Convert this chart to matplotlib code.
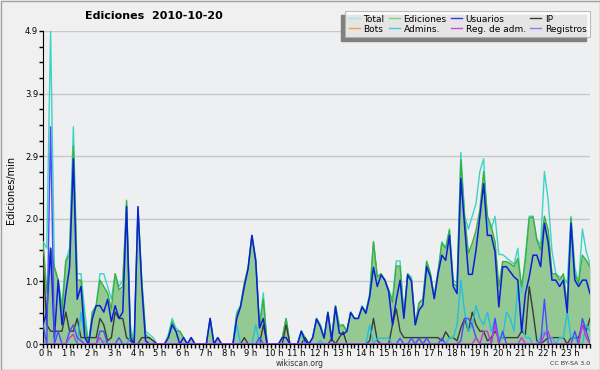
import matplotlib
matplotlib.use("Agg")
import matplotlib.pyplot as plt
import matplotlib.transforms as mtransforms
from matplotlib.lines import Line2D
from matplotlib.patches import Rectangle
from matplotlib.ticker import FixedLocator, MultipleLocator
import numpy as np

# edits per minute, one value every 10 minutes from 0 h to 24 h
total = [1.6, 1.5, 4.9, 1.2, 1.0, 0.6, 1.3, 1.5, 3.4, 1.1, 1.1, 0.5,
         0.0, 0.5, 0.6, 1.1, 1.1, 0.9, 0.7, 1.1, 0.9, 1.0, 2.2, 0.3,
         0.0, 2.15, 1.0, 0.2, 0.15, 0.1, 0.0, 0.0, 0.0, 0.15, 0.4, 0.25,
         0.2, 0.1, 0.0, 0.1, 0.0, 0.0, 0.0, 0.0, 0.4, 0.0, 0.1, 0.0,
         0.0, 0.0, 0.0, 0.5, 0.6, 0.95, 1.2, 1.7, 1.35, 0.3, 0.8, 0.0,
         0.0, 0.0, 0.0, 0.1, 0.4, 0.0, 0.0, 0.0, 0.2, 0.1, 0.0, 0.1,
         0.4, 0.3, 0.1, 0.5, 0.1, 0.6, 0.3, 0.3, 0.2, 0.5, 0.4, 0.4,
         0.6, 0.5, 0.8, 1.6, 1.05, 1.1, 1.0, 0.85, 0.7, 1.3, 1.3, 0.45,
         1.1, 1.05, 0.3, 0.65, 0.7, 1.3, 1.1, 0.75, 1.15, 1.6, 1.5, 1.8,
         1.0, 0.95, 3.0, 2.0, 1.8, 2.0, 2.2, 2.7, 2.9, 1.9, 1.8, 2.0,
         1.4, 1.4, 1.35, 1.3, 1.25, 1.5, 0.8, 1.4, 2.0, 2.0, 1.65, 1.55,
         2.7, 2.25, 1.45, 1.1, 1.05, 1.05, 0.95, 2.0, 1.2, 0.95, 1.8, 1.45,
         1.25]

ediciones = [1.6, 0.8, 1.5, 1.2, 1.0, 0.5, 1.3, 1.4, 3.1, 1.0, 1.0, 0.3,
             0.0, 0.5, 0.6, 1.0, 0.9, 0.8, 0.55, 1.1, 0.85, 0.9, 2.25, 0.2,
             0.0, 2.1, 1.0, 0.15, 0.1, 0.05, 0, 0, 0, 0.1, 0.35, 0.2,
             0.2, 0.1, 0, 0.1, 0, 0, 0, 0, 0.4, 0, 0.1, 0,
             0, 0, 0, 0.45, 0.6, 0.95, 1.2, 1.7, 1.3, 0.25, 0.7, 0,
             0, 0, 0, 0.1, 0.4, 0, 0, 0, 0.2, 0.1, 0, 0.1,
             0.4, 0.3, 0.1, 0.5, 0.1, 0.6, 0.27, 0.3, 0.2, 0.5, 0.4, 0.4,
             0.58, 0.5, 0.75, 1.6, 1.05, 1.1, 1.0, 0.85, 0.65, 1.22, 1.22, 0.45,
             1.1, 1.0, 0.3, 0.64, 0.7, 1.29, 1.1, 0.72, 1.12, 1.58, 1.5, 1.78,
             0.95, 0.9, 2.88, 1.99, 1.42, 1.58, 1.78, 2.1, 2.7, 2.0, 1.84, 1.6,
             0.9, 1.29, 1.29, 1.26, 1.21, 1.34, 0.9, 1.3, 1.97, 1.99, 1.63, 1.47,
             2.0, 1.78, 1.1, 1.1, 1.0, 1.1, 0.61, 1.97, 1.1, 0.95, 1.39, 1.31,
             1.21]

usuarios = [0.3, 0.5, 1.5, 0.1, 1.0, 0.3, 0.8, 1.2, 2.9, 0.7, 0.9, 0.1,
            0.0, 0.4, 0.6, 0.6, 0.5, 0.7, 0.35, 0.6, 0.4, 0.5, 2.15, 0.1,
            0.0, 2.15, 0.9, 0.05, 0, 0, 0, 0, 0, 0.1, 0.3, 0.2,
            0, 0.1, 0, 0.1, 0, 0, 0, 0, 0.4, 0, 0.1, 0,
            0, 0, 0, 0.4, 0.58, 0.9, 1.18, 1.7, 1.3, 0.25, 0.4, 0,
            0, 0, 0, 0.1, 0.1, 0, 0, 0, 0.2, 0.05, 0, 0.1,
            0.39, 0.27, 0.09, 0.49, 0.05, 0.58, 0.17, 0.15, 0.2, 0.49, 0.4, 0.4,
            0.58, 0.48, 0.74, 1.2, 0.9, 1.08, 1.0, 0.82, 0.3, 0.69, 1.0, 0.4,
            1.08, 0.98, 0.3, 0.53, 0.61, 1.21, 1.05, 0.71, 1.1, 1.39, 1.31, 1.7,
            0.9, 0.79, 2.59, 1.84, 1.09, 1.09, 1.47, 1.99, 2.51, 1.7, 1.7, 1.44,
            0.58, 1.21, 1.21, 1.13, 1.05, 1.0, 0.19, 0.79, 1.05, 1.39, 1.39, 1.21,
            1.89, 1.58, 1.0, 1.0, 0.9, 1.0, 0.49, 1.89, 1.0, 0.9, 1.0, 1.0,
            0.79]

ip = [1.3, 0.3, 0.2, 0.2, 0.2, 0.2, 0.5, 0.2, 0.2, 0.4, 0.1, 0.1,
      0.1, 0.1, 0.1, 0.4, 0.3, 0.05, 0.1, 0.5, 0.4, 0.4, 0.1, 0.05,
      0, 0, 0.1, 0.1, 0.1, 0.05, 0, 0, 0, 0, 0, 0,
      0, 0, 0, 0, 0, 0, 0, 0, 0, 0, 0, 0,
      0, 0, 0, 0, 0, 0.1, 0, 0, 0, 0, 0.3, 0,
      0, 0, 0, 0, 0.3, 0, 0, 0, 0, 0.1, 0, 0,
      0, 0, 0, 0, 0.08, 0, 0.1, 0.19, 0, 0, 0, 0,
      0, 0, 0.05, 0.4, 0.05, 0, 0, 0, 0.3, 0.55, 0.2, 0.1,
      0.1, 0.1, 0.1, 0.1, 0.1, 0.1, 0.1, 0.1, 0.1, 0.05, 0.19, 0.1,
      0.1, 0.05, 0.25, 0.4, 0.2, 0.5, 0.3, 0.2, 0.2, 0.05, 0.1, 0.2,
      0.1, 0.1, 0.1, 0.1, 0.1, 0.1, 0.2, 0.15, 0.9, 0.5, 0.05, 0,
      0.05, 0.1, 0.1, 0.1, 0.1, 0.1, 0, 0.1, 0.1, 0.1, 0.3, 0.2,
      0.4]

bots = [0.0] * 145

admins = [0, 0, 0, 0, 0, 0, 0, 0, 0, 0, 0.5, 0.1,
          0, 0, 0, 0, 0.05, 0, 0, 0, 0, 0, 0, 0.1,
          0, 0, 0, 0, 0, 0, 0, 0, 0, 0, 0, 0,
          0, 0, 0, 0, 0, 0, 0, 0, 0, 0, 0, 0,
          0, 0, 0, 0.3, 0, 0, 0, 0, 0.3, 0, 0, 0,
          0, 0, 0, 0, 0, 0, 0, 0, 0.2, 0, 0, 0,
          0, 0.05, 0, 0, 0, 0, 0, 0, 0, 0, 0, 0,
          0, 0, 0.3, 0, 0.09, 0.09, 0.09, 0.09, 0, 0, 0, 0,
          0, 0, 0, 0, 0, 0, 0, 0, 0, 0, 0, 0.1,
          0.1, 0.3, 1.0, 0.5, 0.2, 0.3, 0.6, 0.4, 0.3, 0.5, 0.2, 0.4,
          0.1, 0.1, 0.5, 0.4, 0.2, 0.9, 0.3, 0.1, 0.1, 0, 0, 0.1,
          0.2, 0.1, 0.1, 0, 0.1, 0.1, 0.5, 0.1, 0.1, 0, 0, 0.3,
          0.2]

reg_adm = [0, 0, 0, 0, 0, 0, 0, 0.1, 0.15, 0, 0, 0,
           0, 0, 0, 0.1, 0, 0, 0, 0, 0, 0, 0, 0,
           0, 0, 0, 0, 0, 0, 0, 0, 0, 0, 0, 0,
           0, 0, 0, 0, 0, 0, 0, 0, 0, 0, 0, 0,
           0, 0, 0, 0, 0, 0, 0, 0, 0, 0, 0, 0,
           0, 0, 0, 0, 0, 0, 0, 0, 0, 0, 0, 0,
           0, 0, 0, 0, 0, 0, 0, 0, 0, 0, 0, 0,
           0, 0, 0, 0, 0, 0, 0, 0, 0, 0, 0, 0,
           0, 0, 0, 0, 0, 0, 0, 0, 0, 0, 0, 0,
           0, 0, 0, 0, 0, 0, 0.1, 0, 0.2, 0.2, 0, 0.3,
           0, 0, 0, 0, 0, 0, 0.1, 0, 0, 0, 0, 0,
           0.15, 0.2, 0, 0, 0, 0, 0, 0, 0, 0, 0.3, 0.1,
           0]

registros = [0.3, 0, 3.4, 0, 0.2, 0, 0, 0.2, 0.3, 0.1, 0.05, 0,
             0, 0, 0, 0.2, 0.2, 0, 0, 0, 0.1, 0, 0, 0,
             0, 0, 0, 0, 0, 0, 0, 0, 0, 0, 0, 0,
             0, 0, 0, 0, 0, 0, 0, 0, 0, 0, 0, 0,
             0, 0, 0, 0, 0, 0, 0, 0, 0, 0.1, 0, 0,
             0, 0, 0, 0, 0, 0, 0, 0, 0, 0, 0, 0,
             0, 0, 0, 0, 0, 0, 0, 0, 0, 0, 0, 0,
             0, 0, 0, 0, 0, 0, 0, 0, 0, 0, 0.09, 0,
             0, 0.09, 0, 0.09, 0, 0.09, 0, 0, 0, 0.09, 0, 0,
             0, 0, 0.05, 0.4, 0.4, 0.3, 0.1, 0, 0, 0, 0, 0.4,
             0, 0.2, 0, 0, 0, 0, 0, 0, 0, 0, 0, 0,
             0.7, 0, 0, 0, 0, 0, 0, 0, 0.2, 0, 0.4, 0.2,
             0]

hour_labels = ["%d h" % h for h in range(24)]
y_ticks = [0, 0.98, 1.96, 2.94, 3.92, 4.9]

x = np.arange(len(total)) / 6.0

fig = plt.figure(figsize=(6, 3.7), dpi=100, facecolor="#f0f0f0")
ax = fig.add_axes([43 / 600, 26 / 370, 547 / 600, 313 / 370])
ax.set_facecolor("#eeeff1")

ax.fill_between(x, ediciones, color="#94c994", lw=0, zorder=2)
ax.plot(x, total, color="#3ed2c6", lw=1, zorder=3)
ax.plot(x, ediciones, color="#3cb03c", lw=1, zorder=3)
ax.plot(x, bots, color="#f0a040", lw=1, zorder=3)
ax.plot(x, ip, color="#3a3a3a", lw=1, zorder=4)
ax.plot(x, admins, color="#22c0e0", lw=1, zorder=4)
ax.plot(x, usuarios, color="#0c1ed8", lw=1.1, zorder=5)
ax.plot(x, registros, color="#4a4aff", lw=1, zorder=5)
ax.plot(x, reg_adm, color="#c838d8", lw=1, zorder=5)

ax.set_xlim(0, 24)
ax.set_ylim(0, 4.9)
ax.yaxis.set_major_locator(FixedLocator(y_ticks))
ax.set_yticklabels(["%.1f" % v for v in y_ticks])
ax.yaxis.set_minor_locator(MultipleLocator(0.245))
ax.xaxis.set_major_locator(FixedLocator(range(24)))
ax.set_xticklabels(hour_labels)
ax.xaxis.set_minor_locator(MultipleLocator(1 / 6))
ax.tick_params(axis="both", which="both", direction="out", color="black",
               width=1, labelsize=6, pad=0.5)
ax.tick_params(axis="both", which="major", length=3)
ax.tick_params(axis="both", which="minor", length=3)
shift = mtransforms.ScaledTranslation(3 / 100, 0, fig.dpi_scale_trans)
for lab in ax.get_xticklabels():
    lab.set_transform(lab.get_transform() + shift)

ax.grid(axis="y", which="major", color="#c8c8c8", lw=1, zorder=1)
ax.set_axisbelow(True)
for s in ["top", "right"]:
    ax.spines[s].set_visible(False)
ax.spines["left"].set_color("black")
ax.spines["bottom"].set_color("black")
ax.spines["bottom"].set_zorder(6)

fig.text(154 / 600, 1 - 16 / 370, "Ediciones  2010-10-20", ha="center",
         va="center", fontsize=8, fontweight="bold")
fig.text(11 / 600, 1 - 190 / 370, "Ediciones/min", rotation=90, ha="center",
         va="center", fontsize=7)
fig.text(300 / 600, 1 - 363.5 / 370, "wikiscan.org", ha="center",
         va="center", fontsize=5.5, color="#333333")
fig.text(590 / 600, 1 - 363.5 / 370, "CC BY-SA 3.0", ha="right",
         va="center", fontsize=4.5, color="#333333")

names = ["Total", "Bots", "Ediciones", "Admins.", "Usuarios", "Reg. de adm.",
         "IP", "Registros"]
leg_colors = ["#a8e4e4", "#f0a040", "#88cc88", "#48c8e0", "#3838e0",
              "#d048d8", "#383838", "#8080f0"]
handles = [Line2D([], [], color=c, lw=1) for c in leg_colors]
leg = fig.legend(handles, names, ncol=4, loc="upper right",
                 bbox_to_anchor=(590 / 600, 1 - 11 / 370), fontsize=6.5,
                 frameon=True, fancybox=False, edgecolor="#b0b0b0",
                 handlelength=1.2, handletextpad=0.4, columnspacing=0.5,
                 borderpad=0.4, labelspacing=0.1, borderaxespad=0)
leg.get_frame().set_linewidth(0.8)
leg.set_zorder(10)

fig.canvas.draw()
bb = leg.get_window_extent().transformed(fig.transFigure.inverted())
fig.patches.append(Rectangle((bb.x0 - 4 / 600, bb.y0 - 4 / 370), bb.width,
                             bb.height, transform=fig.transFigure,
                             color="#808080", zorder=9))
fig.patches.append(Rectangle((0.5 / 600, 0.5 / 370), 599 / 600, 369 / 370,
                             transform=fig.transFigure, fill=False,
                             edgecolor="#a0a0a0", lw=1, zorder=0))

fig.savefig("out.png", dpi=100, facecolor=fig.get_facecolor())
